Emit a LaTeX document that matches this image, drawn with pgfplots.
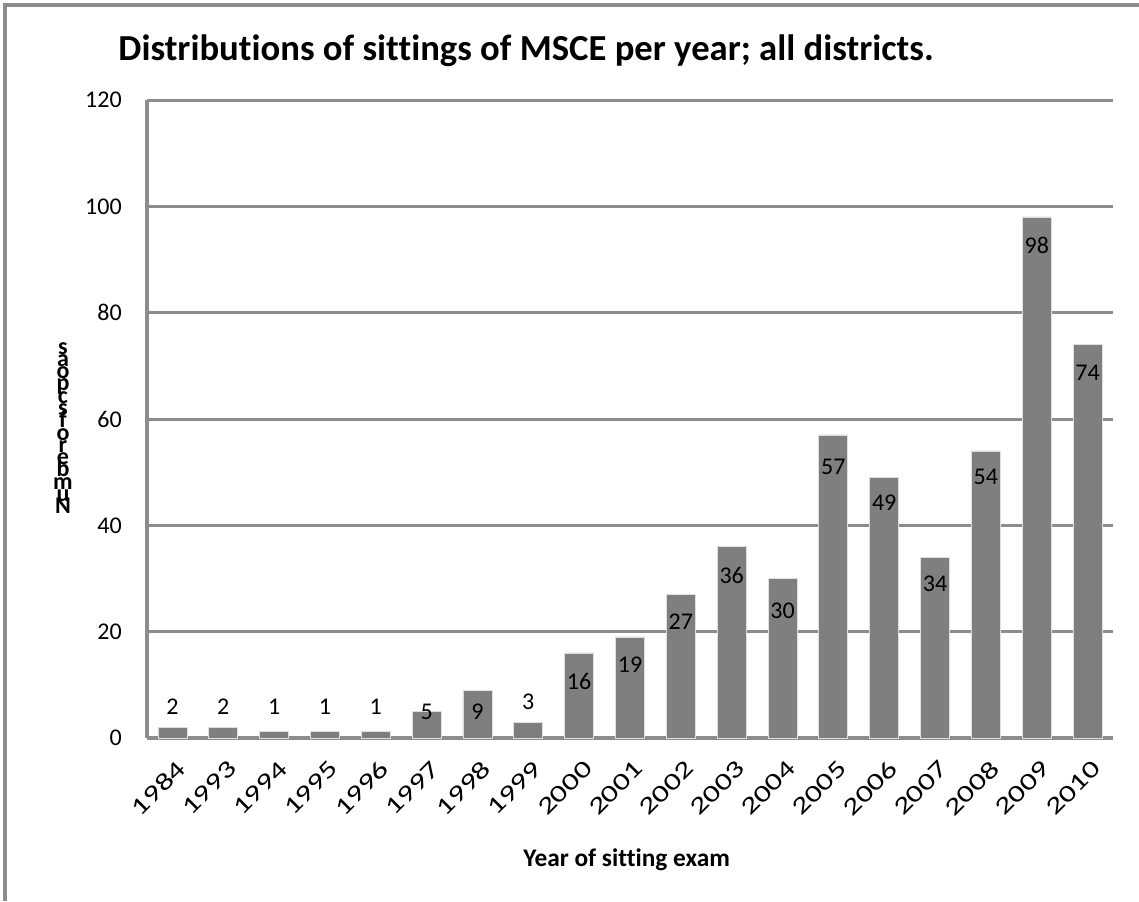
\documentclass[border=0pt]{standalone}
\usepackage{pgfplots}
\pgfplotsset{compat=1.18}
\usepackage{fontspec}
\setmainfont{Carlito}[RawFeature={-liga;-clig}]
\definecolor{barc}{HTML}{7F7F7F}
\definecolor{gridc}{HTML}{8C8C8C}
\newcommand\ylabfont{\bfseries\fontsize{18}{9.2}\selectfont\lineskiplimit=-50pt\lineskip=0pt\relax}
\begin{document}
\begin{tikzpicture}
\useasboundingbox (0,0) rectangle (854.25pt,675.75pt);
\draw[gridc, line width=3pt] (3.5pt,0) -- (3.5pt,672.25pt) -- (854.25pt,672.25pt);
\begin{axis}[at={(110.25pt,122.25pt)}, anchor=south west, scale only axis,
  width=724.5pt, height=478.5pt,
  xmin=-0.5, xmax=18.5, ymin=0, ymax=120, ytick={0,20,...,120},
  axis x line=bottom, axis y line=left,
  axis line style={gridc, line width=3pt, -},
  ymajorgrids, grid style={gridc, line width=2.25pt},
  major tick length=0pt,
  xtick={0,...,18},
  xticklabels={1984,1993,1994,1995,1996,1997,1998,1999,2000,2001,2002,2003,2004,2005,2006,2007,2008,2009,2010},
  x tick label style={xshift=7pt, yshift=-20pt, rotate=45, xscale=1.35, anchor=east, inner sep=0pt, font=\fontsize{18}{18}\selectfont},
  y tick label style={anchor=east, inner sep=0pt, xshift=-18.75pt, font=\fontsize{18}{18}\selectfont},
  /pgf/number format/assume math mode=true,
  clip=false,
]
\addplot[ybar, bar width=21.75pt, fill=barc, draw=white!75!gray, line width=0.6pt] coordinates {
(0,2) (1,2) (2,1.3) (3,1.3) (4,1.3) (5,5) (6,9) (7,3) (8,16) (9,19) (10,27) (11,36) (12,30) (13,57) (14,49) (15,34) (16,54) (17,98) (18,74)};
\addplot[draw=none, mark=none, nodes near coords, point meta=explicit symbolic,
  nodes near coords align={center},
  every node near coord/.append style={font=\fontsize{18}{18}\selectfont, text=black, inner sep=0pt}]
coordinates {
(0,5.8)[2] (1,5.8)[2] (2,5.8)[1] (3,5.8)[1] (4,5.8)[1] (5,4.9)[5] (6,4.9)[9] (7,6.8)[3]
(8,10.7)[16] (9,13.7)[19] (10,21.8)[27] (11,30.5)[36] (12,24)[30] (13,51)[57]
(14,44.2)[49] (15,29)[34] (16,49.2)[54] (17,92.7)[98] (18,68.6)[74]};
\end{axis}
\node[font=\bfseries\fontsize{27.5}{30}\selectfont] at (394.5pt,637.5pt) {Distributions of sittings of MSCE per year; all districts.};
\node[font=\bfseries\fontsize{19}{20}\selectfont] at (470pt,30.75pt) {Year of sitting exam};
\node[font=\ylabfont, align=center, inner sep=0pt] at (47.25pt,354.75pt) {s\\a\\o\\p\\c\\s\\f\\o\\r\\e\\b\\m\\u\\N};
\end{tikzpicture}
\end{document}
